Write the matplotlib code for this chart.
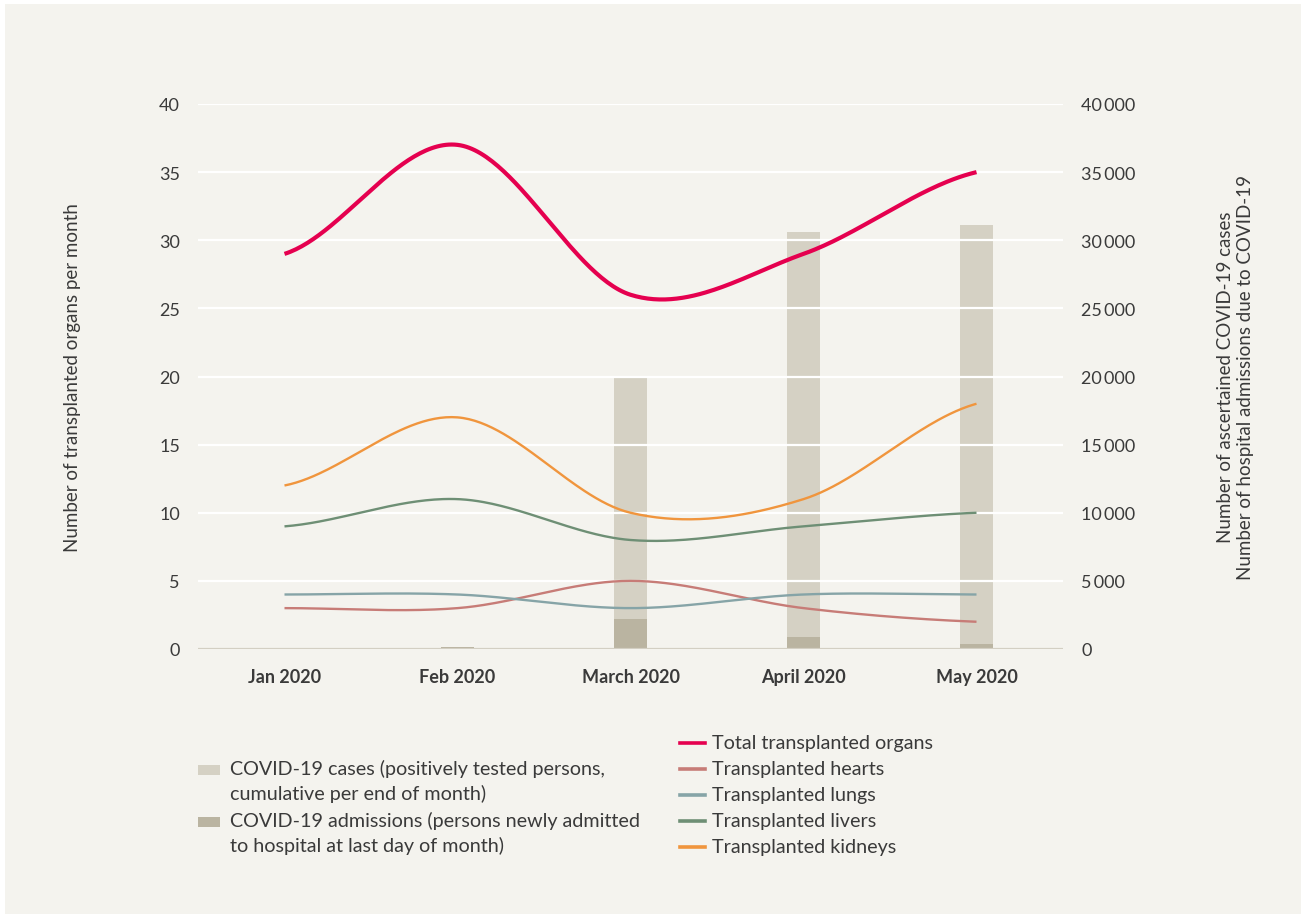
import numpy as np
import matplotlib
matplotlib.use("Agg")
import matplotlib.pyplot as plt
from matplotlib.ticker import FuncFormatter

plt.rcParams['font.family'] = ['Lato', 'DejaVu Sans']

# data
months = ["Jan 2020", "Feb 2020", "March 2020", "April 2020", "May 2020"]
total = [29, 37, 26, 29, 35]
hearts = [3, 3, 5, 3, 2]
lungs = [4, 4, 3, 4, 4]
livers = [9, 11, 8, 9, 10]
kidneys = [12, 17, 10, 11, 18]
covid_cases = [0, 0, 20000, 30600, 31100]
covid_admissions = [0, 150, 2200, 880, 370]

BG = "#f4f3ee"
CASES_C = "#d5d1c4"
ADM_C = "#bab4a1"
TEXT_C = "#3a3a3a"
W, H = 1306, 920


def catmull_rom(y, n=60):
    # smooth path through the points (cardinal spline, tension 0)
    y = np.asarray(y, dtype=float)
    p = np.concatenate([[y[0]], y, [y[-1]]])
    xs, ys = [], []
    for i in range(len(y) - 1):
        p0, p1, p2, p3 = p[i], p[i + 1], p[i + 2], p[i + 3]
        m1 = (p2 - p0) / 2
        m2 = (p3 - p1) / 2
        t = np.linspace(0, 1, n, endpoint=(i == len(y) - 2))
        h00 = 2 * t**3 - 3 * t**2 + 1
        h10 = t**3 - 2 * t**2 + t
        h01 = -2 * t**3 + 3 * t**2
        h11 = t**3 - t**2
        xs.append(i + t)
        ys.append(h00 * p1 + h10 * m1 + h01 * p2 + h11 * m2)
    return np.concatenate(xs), np.concatenate(ys)


def fx(px):
    return px / W


def fy(py):
    return 1 - py / H


fig = plt.figure(figsize=(W / 100, H / 100), dpi=100, facecolor="white")
fig.patches.append(plt.Rectangle((0.004, 0.005), 0.992, 0.99, transform=fig.transFigure,
                                 facecolor=BG, edgecolor="none", zorder=-10))

ax = fig.add_axes([fx(198), fy(650), fx(1063 - 198), (650 - 105) / H])
ax.set_facecolor(BG)
ax2 = ax.twinx()

x = np.arange(len(months))

# bars on the right axis
ax2.bar(x, covid_cases, width=0.185, color=CASES_C, zorder=1)
ax2.bar(x, covid_admissions, width=0.185, color=ADM_C, zorder=2)
ax2.set_ylim(0, 40000)
ax2.set_yticks(np.arange(0, 40001, 5000))
ax2.yaxis.set_major_formatter(FuncFormatter(lambda v, p: f"{int(v):,}".replace(",", "\u2009")))
for g in np.arange(5000, 40001, 5000):
    ax2.axhline(g, color="white", lw=1.6, zorder=3)
ax2.axhline(0, color="#d3cfc3", lw=1.6, zorder=3)

series = [
    (total, "#e5004f", 3.0, "Total transplanted organs"),
    (hearts, "#c77c77", 1.7, "Transplanted hearts"),
    (lungs, "#86a4a7", 1.7, "Transplanted lungs"),
    (livers, "#6e8f75", 1.7, "Transplanted livers"),
    (kidneys, "#f0953d", 1.7, "Transplanted kidneys"),
]
# left-axis values drawn on the right axis (x1000) so they sit above the bars
for vals, col, lw, lab in series:
    sx, sy = catmull_rom(vals)
    ax2.plot(sx, sy * 1000, color=col, lw=lw, zorder=5, solid_capstyle="butt")

ax.set_ylim(0, 40)
ax.set_yticks(np.arange(0, 41, 5))
ax.set_xlim(-0.5, 4.5)
ax.set_xticks(x)
ax.set_xticklabels(months, fontsize=13.5, fontweight="bold", color="#222222")

for a in (ax, ax2):
    for s in a.spines.values():
        s.set_visible(False)
    a.tick_params(length=0, colors=TEXT_C, labelsize=13)
ax.tick_params(axis="y", pad=13)
ax2.tick_params(axis="y", pad=13)
ax.tick_params(axis="x", pad=14)

ax.set_ylabel("Number of transplanted organs per month", fontsize=13.5, color=TEXT_C)
ax.yaxis.set_label_coords(-0.135, 0.5)
ax2.set_ylabel("Number of ascertained COVID-19 cases\nNumber of hospital admissions due to COVID-19",
               fontsize=13.5, color=TEXT_C, rotation=90, linespacing=1.25)
ax2.yaxis.set_label_coords(1.178, 0.5)

# legend for bars (handle aligned with first text line)
bar_legend = [
    (CASES_C, "COVID-19 cases (positively tested persons,\ncumulative per end of month)", 771),
    (ADM_C, "COVID-19 admissions (persons newly admitted\nto hospital at last day of month)", 823),
]
for col, lab, py in bar_legend:
    fig.patches.append(plt.Rectangle((fx(198), fy(py + 5)), fx(22), 10 / H,
                                     transform=fig.transFigure, facecolor=col, edgecolor="none"))
    fig.text(fx(230), fy(py - 11), lab, fontsize=14.2, color=TEXT_C, va="top", ha="left",
             linespacing=1.45)

# legend for lines
for i, (vals, col, lw, lab) in enumerate(series):
    py = 744 + 26 * i
    fig.add_artist(plt.Line2D([fx(680), fx(705)], [fy(py), fy(py)], color=col, lw=2.6,
                              transform=fig.transFigure))
    fig.text(fx(712), fy(py), lab, fontsize=14.2, color=TEXT_C, va="center", ha="left")

fig.savefig("out.png", dpi=100, facecolor="white")
